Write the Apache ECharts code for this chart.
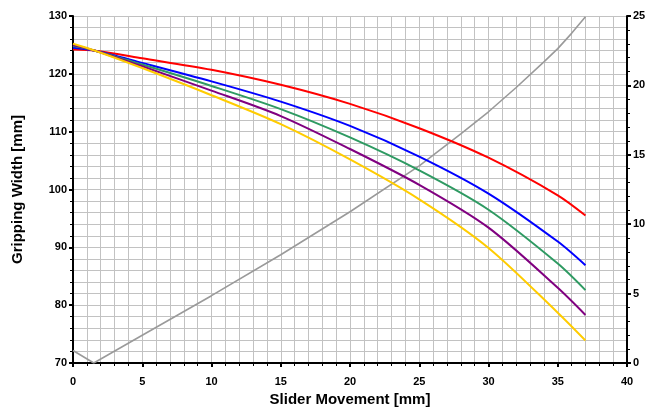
<!DOCTYPE html>
<html>
<head>
<meta charset="utf-8">
<script src="https://cdn.jsdelivr.net/npm/echarts@6/dist/echarts.min.js"></script>
<style>
  html, body { margin: 0; padding: 0; background: #fff; }
  #chart { width: 645px; height: 410px; }
</style>
</head>
<body>
<div id="chart"></div>
<script>
// slider movement positions where the width curves were read
const sliderX = [0, 1.6, 5, 10, 15, 20, 25, 30, 35, 37];
const widthRed = [124.2, 124.0, 122.7, 120.7, 118.1, 114.8, 110.6, 105.5, 99.0, 95.5];
const widthBlue = [124.5, 124.0, 121.9, 118.7, 115.2, 111.0, 105.7, 99.3, 91.0, 86.9];
const widthGreen = [124.8, 124.0, 121.6, 117.9, 113.9, 109.0, 103.3, 96.5, 87.2, 82.6];
const widthPurple = [125.0, 124.0, 121.3, 117.1, 112.7, 107.0, 100.8, 93.4, 83.0, 78.3];
const widthYellow = [125.2, 124.0, 121.0, 116.3, 111.3, 105.2, 98.3, 89.9, 78.7, 73.9];

// gray curve, read against the right axis
const grayX = [0, 1.5, 5, 10, 15, 20, 25, 28, 30, 32, 34, 35, 36, 37];
const grayY = [0.9, 0, 2.0, 4.85, 7.8, 10.9, 14.2, 16.5, 18.1, 19.85, 21.7, 22.65, 23.75, 24.95];

const xTicks = [0, 5, 10, 15, 20, 25, 30, 35, 40];

const zip = (xs, ys) => xs.map((x, i) => [x, ys[i]]);

const font = "'Liberation Sans', Arial, sans-serif";
const gridColor = '#c2c2c2';

const labelStyle = {
  fontFamily: font,
  fontWeight: 'bold',
  fontSize: 11,
  color: '#000'
};
const nameStyle = { fontFamily: font, fontWeight: 'bold', fontSize: 15, color: '#000' };

const widthSeries = [
  { name: 'red', data: widthRed, color: '#ff0000' },
  { name: 'blue', data: widthBlue, color: '#0000ff' },
  { name: 'green', data: widthGreen, color: '#2e9a62' },
  { name: 'purple', data: widthPurple, color: '#800080' },
  { name: 'yellow', data: widthYellow, color: '#ffcc00' }
].map(s => ({
  name: s.name,
  type: 'line',
  yAxisIndex: 0,
  data: zip(sliderX, s.data),
  smooth: 0.3,
  showSymbol: false,
  lineStyle: { color: s.color, width: 2 },
  z: 3
}));

const chart = echarts.init(document.getElementById('chart'), null, { renderer: 'canvas' });

chart.setOption({
  animation: false,
  grid: { left: 73, right: 18, top: 16, bottom: 47, outerBoundsMode: 'none', containLabel: false },
  xAxis: {
    type: 'value',
    min: 0,
    max: 40,
    interval: 5,
    name: 'Slider Movement [mm]',
    nameLocation: 'middle',
    nameGap: 27,
    nameTextStyle: nameStyle,
    axisLine: { onZero: false, lineStyle: { color: '#000', width: 2 } },
    axisTick: { length: 4, lineStyle: { color: '#000', width: 2 } },
    minorTick: { show: true, splitNumber: 5, length: 3, lineStyle: { color: '#000', width: 1 } },
    axisLabel: Object.assign({ margin: 13, formatter: v => xTicks.includes(v) ? String(v) : '' }, labelStyle),
    splitLine: { show: true, lineStyle: { color: gridColor, width: 1 } },
    minorSplitLine: { show: true, lineStyle: { color: gridColor, width: 1 } }
  },
  yAxis: [
    {
      type: 'value',
      min: 70,
      max: 130,
      interval: 10,
      position: 'left',
      name: 'Gripping Width [mm]',
      nameLocation: 'middle',
      nameGap: 48,
      nameTextStyle: nameStyle,
      axisLine: { show: true, lineStyle: { color: '#000', width: 2 } },
      axisTick: { show: true, length: 4, lineStyle: { color: '#000', width: 2 } },
      minorTick: { show: true, splitNumber: 5, length: 3, lineStyle: { color: '#000', width: 1 } },
      axisLabel: Object.assign({ margin: 6 }, labelStyle),
      splitLine: { show: true, lineStyle: { color: gridColor, width: 1 } },
      minorSplitLine: { show: true, lineStyle: { color: gridColor, width: 1 } }
    },
    {
      type: 'value',
      min: 0,
      max: 25,
      interval: 5,
      position: 'right',
      axisLine: { show: true, lineStyle: { color: '#000', width: 2 } },
      axisTick: { show: true, length: 4, lineStyle: { color: '#000', width: 2 } },
      minorTick: { show: true, splitNumber: 5, length: 3, lineStyle: { color: '#000', width: 1 } },
      axisLabel: Object.assign({ margin: 6 }, labelStyle),
      splitLine: { show: false }
    }
  ],
  series: widthSeries.concat([
    {
      name: 'gray',
      type: 'line',
      yAxisIndex: 1,
      data: zip(grayX, grayY),
      showSymbol: false,
      lineStyle: { color: '#9a9a9a', width: 1.6 },
      z: 2
    }
  ])
});
</script>
</body>
</html>
